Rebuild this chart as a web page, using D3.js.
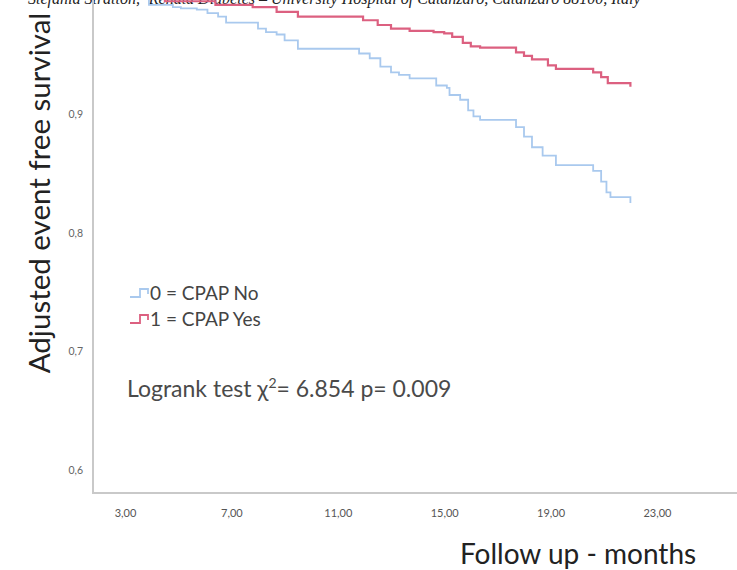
<!DOCTYPE html>
<html>
<head>
<meta charset="utf-8">
<script src="https://cdn.jsdelivr.net/npm/d3@7"></script>
<style>
  body { margin: 0; background: #fff; }
  svg { display: block; }
</style>
</head>
<body>
<svg id="chart" width="737" height="570"></svg>
<script>
// (months, adjusted survival)
const noTime = [1.8, 3.9, 4.8, 5.1, 5.7, 6.1, 6.5, 6.8, 8.0, 8.3, 8.7, 9.0, 9.5, 11.8, 12.2, 12.6, 13.0, 13.3, 13.7, 14.7, 15.1, 15.2, 15.6, 15.9, 16.1, 16.35, 17.7, 18.0, 18.3, 18.7, 19.2, 20.6, 20.9, 21.1, 21.25, 22.0];
const noSurv = [1.0, 0.992, 0.990, 0.989, 0.988, 0.985, 0.982, 0.977, 0.972, 0.969, 0.967, 0.962, 0.955, 0.951, 0.947, 0.940, 0.935, 0.933, 0.930, 0.924, 0.922, 0.916, 0.912, 0.903, 0.898, 0.895, 0.889, 0.881, 0.872, 0.865, 0.857, 0.852, 0.843, 0.834, 0.830, 0.825];
const yesTime = [1.8, 4.5, 6.4, 7.8, 8.7, 9.5, 11.95, 12.5, 13.0, 13.7, 14.6, 15.0, 15.3, 15.7, 16.0, 16.35, 17.7, 18.0, 18.3, 18.9, 19.2, 20.6, 20.9, 21.15, 22.0];
const yesSurv = [1.0, 0.995, 0.992, 0.990, 0.986, 0.982, 0.979, 0.975, 0.972, 0.970, 0.969, 0.968, 0.965, 0.960, 0.957, 0.956, 0.952, 0.949, 0.946, 0.941, 0.938, 0.935, 0.931, 0.926, 0.923];
const xTicks = [3, 7, 11, 15, 19, 23];
const yTicks = [0.6, 0.7, 0.8, 0.9];
const legendLabels = ['0 = CPAP No', '1 = CPAP Yes'];

const blue = '#a9c9ee';
const red = '#dc6080';
const font = 'Lato, "Open Sans", sans-serif';

const svg = d3.select('#chart');

const x = d3.scaleLinear().domain([3, 23]).range([125, 657]);
const y = d3.scaleLinear().domain([0.6, 0.9]).range([470, 114]);

// header line of the page above, cut by the crop
svg.append('text')
  .attr('x', 28).attr('y', 4)
  .attr('font-family', '"Liberation Serif", serif')
  .attr('font-style', 'italic')
  .attr('font-size', 16)
  .attr('fill', '#222')
  .text('Stefania Stratton, ²Renata Diabetes – University Hospital of Catanzaro, Catanzaro 88100, Italy');

// axes frame
svg.append('line')
  .attr('x1', 93).attr('x2', 93).attr('y1', 0).attr('y2', 493)
  .attr('stroke', '#c9c9c9').attr('stroke-width', 2);
svg.append('line')
  .attr('x1', 92).attr('x2', 737).attr('y1', 493).attr('y2', 493)
  .attr('stroke', '#c9c9c9').attr('stroke-width', 2);

const xAxis = svg.append('g')
  .attr('transform', 'translate(0,506)')
  .call(d3.axisBottom(x).tickValues(xTicks).tickSize(0)
    .tickFormat(d => d3.format('.2f')(d).replace('.', ',')));
xAxis.select('.domain').remove();
xAxis.selectAll('text')
  .attr('font-family', font).attr('font-size', 11).attr('fill', '#555');

const yAxis = svg.append('g')
  .attr('transform', 'translate(86,0)')
  .call(d3.axisLeft(y).tickValues(yTicks).tickSize(0)
    .tickFormat(d => d3.format('.1f')(d).replace('.', ',')));
yAxis.select('.domain').remove();
yAxis.selectAll('text')
  .attr('font-family', font).attr('font-size', 10.5).attr('fill', '#666');

// survival curves
const line = d3.line()
  .x(d => x(d[0]))
  .y(d => y(d[1]))
  .curve(d3.curveStepAfter);

svg.append('path')
  .datum(d3.zip(noTime, noSurv))
  .attr('d', line)
  .attr('fill', 'none')
  .attr('stroke', blue)
  .attr('stroke-width', 1.8);

svg.append('path')
  .datum(d3.zip(yesTime, yesSurv))
  .attr('d', line)
  .attr('fill', 'none')
  .attr('stroke', red)
  .attr('stroke-width', 2.2);

// legend
const legend = svg.append('g');
[blue, red].forEach((c, i) => {
  const ly = 297 + i * 26;
  legend.append('path')
    .attr('d', `M130,${ly} H140 V${ly - 8} H148 V${ly - 3}`)
    .attr('fill', 'none')
    .attr('stroke', c)
    .attr('stroke-width', 1.8);
  legend.append('text')
    .attr('x', 150).attr('y', ly + 3)
    .attr('font-family', font).attr('font-size', 19)
    .attr('fill', '#444')
    .text(legendLabels[i]);
});

// logrank annotation
const lr = svg.append('text')
  .attr('x', 127).attr('y', 397)
  .attr('font-family', font).attr('font-size', 23)
  .attr('fill', '#4a4a4a');
lr.append('tspan').text('Logrank test χ');
lr.append('tspan').attr('font-size', 14).attr('dy', -9).text('2');
lr.append('tspan').attr('dy', 9).text('= 6.854 p= 0.009');

// axis titles
svg.append('text')
  .attr('transform', 'translate(50,193) rotate(-90)')
  .attr('text-anchor', 'middle')
  .attr('font-family', font).attr('font-size', 29.5)
  .attr('fill', '#222')
  .text('Adjusted event free survival');

svg.append('text')
  .attr('x', 460).attr('y', 564)
  .attr('font-family', font).attr('font-size', 28)
  .attr('fill', '#222')
  .text('Follow up - months');
</script>
</body>
</html>
